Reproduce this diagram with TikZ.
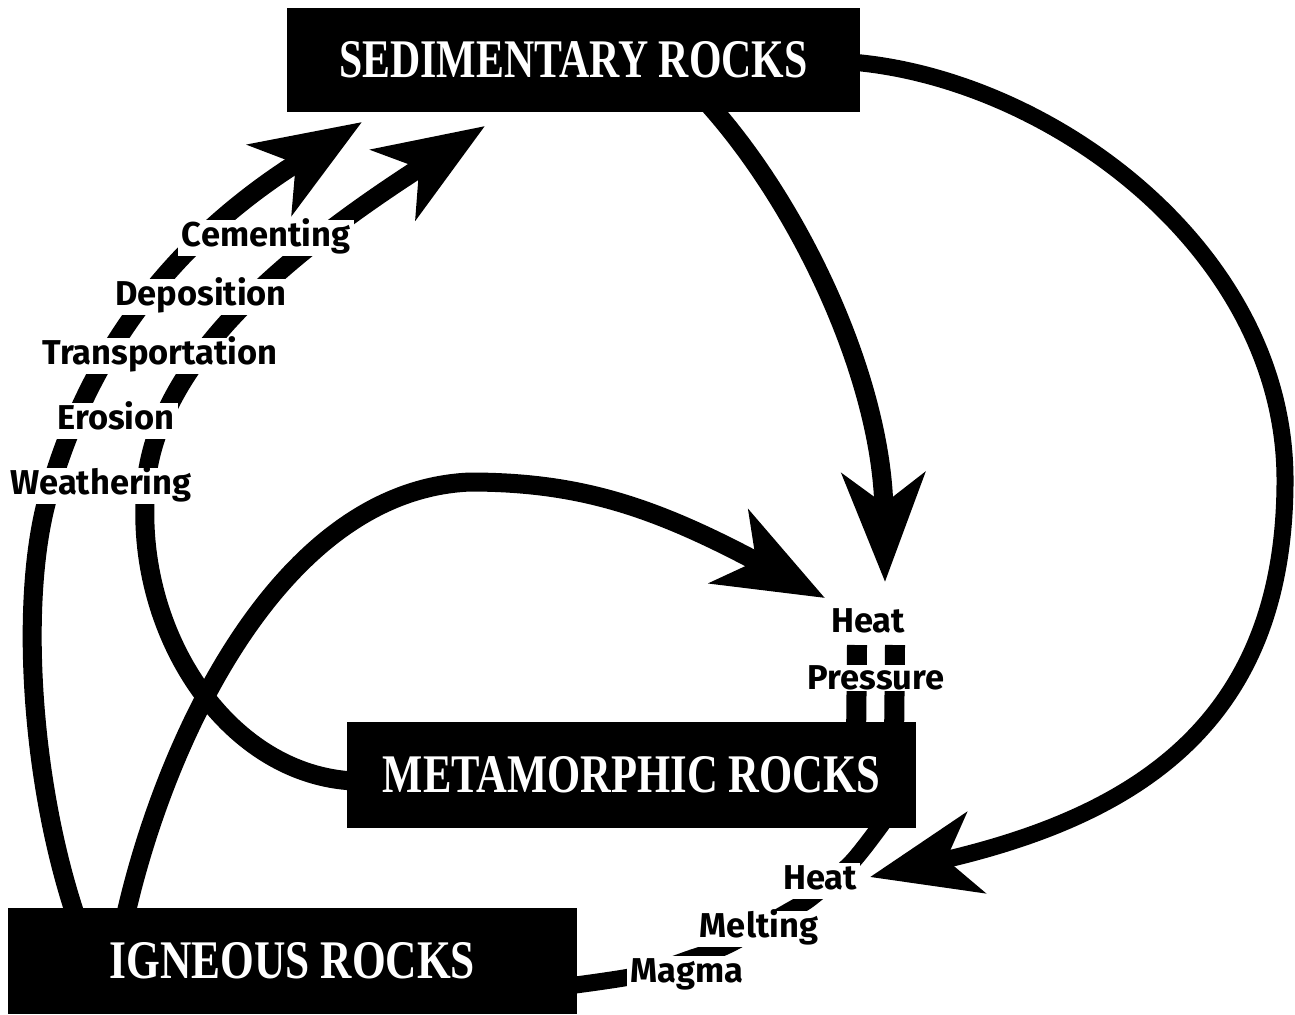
\documentclass[tikz,border=0pt]{standalone}
\usepackage{fontspec}
\setmainfont{Fira Sans}
\newfontfamily\boxfont{Liberation Serif}
\usetikzlibrary{arrows.meta,calc,backgrounds}
\tikzset{
  rockbox/.style={fill=black, draw=none, inner sep=0pt, text=white},
  flow/.style={line width=0.19cm, draw=black, -{Stealth[length=1.08cm,width=0.82cm,inset=0.3cm]}},
  band/.style={line width=0.17cm, draw=black},
  stub/.style={line width=0.2cm, draw=black},
  lbl/.style={fill=white, inner xsep=1pt, inner ysep=0.6pt, text height=6.8pt, text depth=2pt, font=\fontsize{9.8}{10}\selectfont\bfseries},
  plainlbl/.style={inner sep=0pt, font=\fontsize{9.8}{10}\selectfont\bfseries},
}
\begin{document}
\begin{tikzpicture}[x=0.01cm,y=-0.01cm]
\useasboundingbox (0,0) rectangle (1295,1014);

% boxes
\node[rockbox, minimum width=5.73cm, minimum height=1.04cm] (sed) at (573.5,60)
  {\resizebox{4.68cm}{0.36cm}{\boxfont\bfseries SEDIMENTARY ROCKS}};
\node[rockbox, minimum width=5.69cm, minimum height=1.06cm] (met) at (631.5,775)
  {\resizebox{4.97cm}{0.36cm}{\boxfont\bfseries METAMORPHIC ROCKS}};
\node[rockbox, minimum width=5.69cm, minimum height=1.06cm] (ign) at (292.5,961)
  {\resizebox{3.65cm}{0.36cm}{\boxfont\bfseries IGNEOUS ROCKS}};

% attachment points
\coordinate (ignA) at ($(ign.north west)+(69,10)$);
\coordinate (ignC) at ($(ign.north west)+(118,10)$);
\coordinate (ignF) at ($(ign.south east)+(-8,-29)$);
\coordinate (metB) at ($(met.west)+(8,6)$);
\coordinate (metF) at ($(met.south west)+(538,-8)$);
\coordinate (metP1) at ($(met.north west)+(510,8)$);
\coordinate (metP2) at ($(met.north west)+(548,8)$);
\coordinate (sedD) at ($(sed.south west)+(423,-8)$);
\coordinate (sedE) at ($(sed.east)+(-10,2)$);

% arrow tips and bends
\coordinate (tipA) at (362,122);
\coordinate (tipB) at (485,126);
\coordinate (tipC) at (825,598);
\coordinate (tipD) at (885,582);
\coordinate (tipE) at (870,877);
\coordinate (bendA) at (47,500);
\coordinate (bendB) at (145,503);
\coordinate (bendC) at (470,482);
\coordinate (bendE) at (1285,480);
\coordinate (topP1) at (857,645);
\coordinate (topP2) at (895,645);

\begin{pgfonlayer}{background}
% igneous -> sedimentary
\draw[flow] (ignA) .. controls (30,780) and (20,600) .. (bendA)
                   .. controls (80,380) and (150,255) .. (tipA);
% metamorphic -> sedimentary
\draw[flow] (metB) .. controls (230,775) and (140,640) .. (bendB)
                   .. controls (145,380) and (260,270) .. (tipB);
% igneous -> metamorphic (heat)
\draw[flow] (ignC) .. controls (165,740) and (280,490) .. (bendC)
                   .. controls (580,482) and (655,507) .. (tipC);
% sedimentary -> metamorphic (heat)
\draw[flow] (sedD) .. controls (803,210) and (882,382) .. (tipD);
% sedimentary -> igneous (heat)
\draw[flow, line width=0.17cm] (sedE) .. controls (1050,78) and (1285,250) .. (bendE)
                   .. controls (1285,720) and (1140,815) .. (tipE);
% metamorphic -> igneous (melting)
\draw[band] plot[smooth] coordinates {(metF) (852,862) (812,897) (791,910) (728,945) (692,958) (640,975) (ignF)};
% heat / pressure stubs
\draw[stub] (metP1) -- (topP1);
\draw[stub] (metP2) -- (topP2);
\end{pgfonlayer}

% labels
\node[lbl] (lcem) at (266,238) {Cementing};
\node[lbl] (ldep) at (201,297) {Deposition};
\node[lbl] (ltra) at (160,356) {Transportation};
\node[lbl] (lero) at (116,421) {Erosion};
\node[lbl] (lwea) at (101,486) {Weathering};
\node[plainlbl] (lheat1) at (868,621) {Heat};
\node[lbl, inner ysep=0pt, text depth=0.5pt] (lpres) at (876,678) {Pressure};
\node[lbl] (lheat2) at (820,881) {Heat};
\node[lbl] (lmelt) at (759,929) {Melting};
\node[lbl] (lmag) at (687,974) {Magma};
\end{tikzpicture}
\end{document}
